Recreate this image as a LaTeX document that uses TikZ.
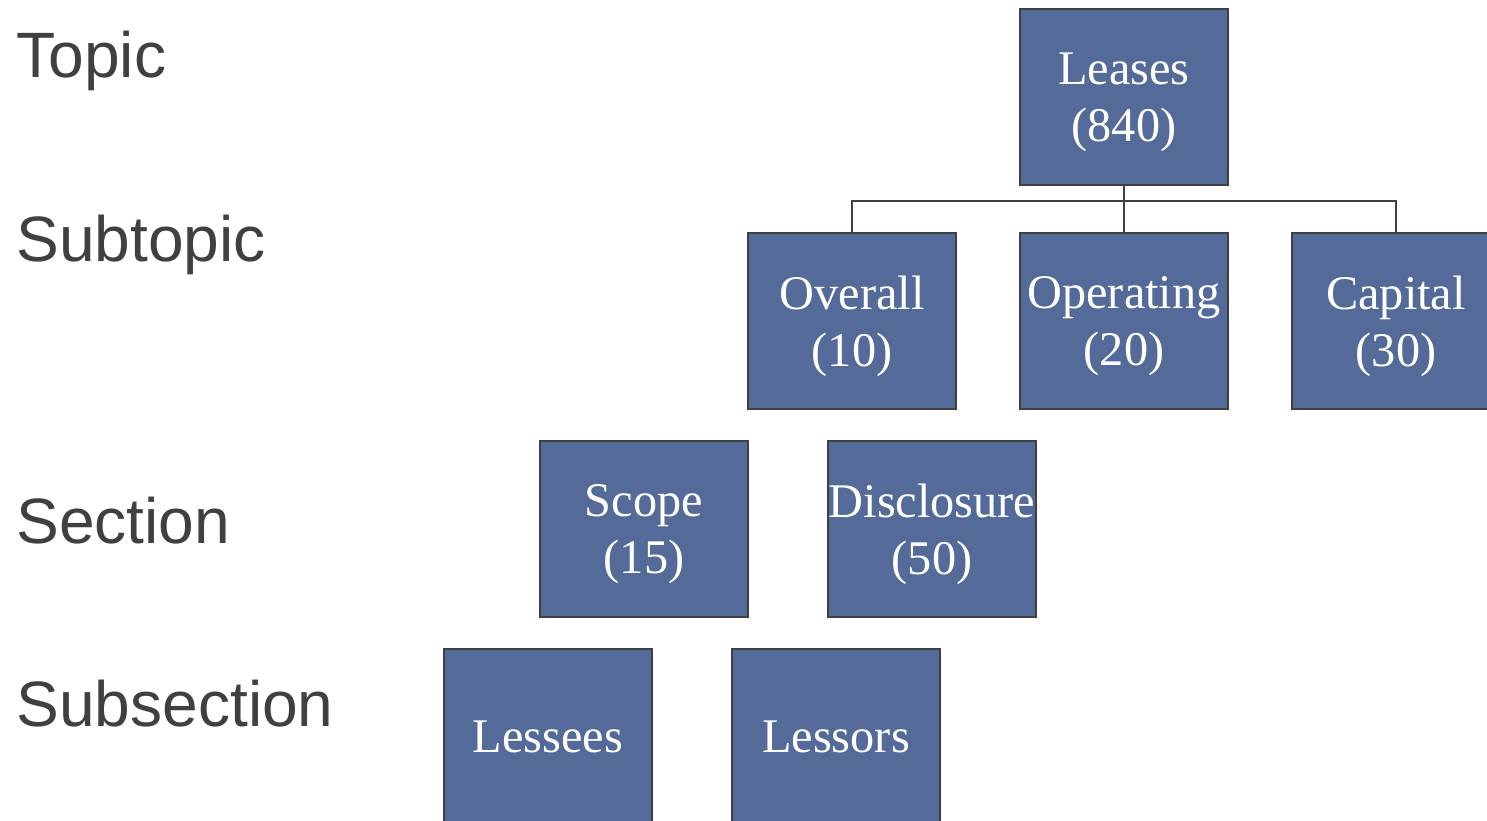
\documentclass[tikz,border=0pt]{standalone}
\usepackage{fontspec}
\setmainfont{Liberation Serif}
\newfontfamily\levelfont{Liberation Sans}
\usepackage{xcolor}
\usetikzlibrary{positioning}
\definecolor{boxblue}{HTML}{546A99}
\definecolor{edgegray}{HTML}{404040}
\tikzset{
  itembox/.style={draw=edgegray,line width=1.1pt,fill=boxblue,text=white,
    minimum width=4.16cm,minimum height=3.52cm,inner sep=0pt,align=center,
    text depth=0pt,font=\fontsize{27.5}{32.5}\selectfont},
  levellabel/.style={anchor=west,text=edgegray,inner sep=0pt,
    font=\levelfont\fontsize{36.5}{40}\selectfont},
  link/.style={draw=edgegray,line width=1.1pt}
}

\begin{document}
\begin{tikzpicture}[x=0.02cm,y=-0.02cm]
    \useasboundingbox (0,0) rectangle (1487,821);
    \clip (0,0) rectangle (1487,821);

    \node[levellabel] (topic) at (16,61) {Topic};
    \node[levellabel] (subtopic) at (16,245) {Subtopic};
    \node[levellabel] (section) at (16,521) {Section};
    \node[levellabel] (subsection) at (16,704) {Subsection};

    \node[itembox] (leases) at (1124,97) {Leases\\(840)};
    \node[itembox] (overall) at (852,321) {Overall\\(10)};
    \node[itembox] (operating) at (1124,321) {Operating\\(20)};
    \node[itembox] (capital) at (1396,321) {Capital\\(30)};
    \node[itembox] (scope) at (644,529) {Scope\\(15)};
    \node[itembox] (disclosure) at (932,529) {Disclosure\\(50)};
    \node[itembox] (lessees) at (548,737) {Lessees};
    \node[itembox] (lessors) at (836,737) {Lessors};

    \coordinate (bus) at (1124,201);
    \draw[link] (leases.south) -- (bus);
    \draw[link] (bus) -| (overall.north);
    \draw[link] (bus) -| (capital.north);
    \draw[link] (bus) -- (operating.north);
  \end{tikzpicture}
\end{document}
